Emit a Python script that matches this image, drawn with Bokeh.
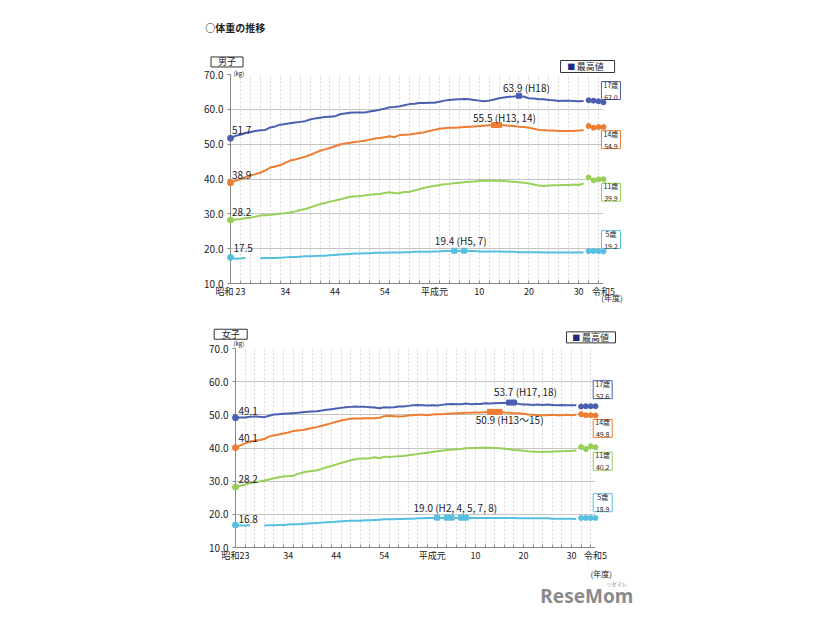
from bokeh.plotting import figure
from bokeh.models import Range1d, FixedTicker
from bokeh.core.properties import value
from bokeh.embed import file_html
from bokeh.resources import INLINE

nan = float("nan")
years = list(range(1948, 2020))
recent_years = [2020, 2021, 2022, 2023]

x_ticks = [1948, 1959, 1969, 1979, 1989, 1998, 2008, 2018, 2023]
x_labels_boys = ["昭和 23", "34", "44", "54", "平成元", "10", "20", "30", "令和5"]
x_labels_girls = ["昭和23", "34", "44", "54", "平成元", "10", "20", "30", "令和5"]
y_ticks = [10, 20, 30, 40, 50, 60, 70]
y_labels = ["10.0", "20.0", "30.0", "40.0", "50.0", "60.0", "70.0"]

# ---- boys (男子) ----
boys17 = [51.7, 52.4, 52.7, 53.2, 53.5, 53.8, 54.0, 54.1, 54.8, 55.1, 55.6, 55.8, 56.0, 56.2,
          56.4, 56.6, 57.1, 57.4, 57.6, 57.8, 57.9, 58.0, 58.6, 58.8, 59.0, 59.1, 59.1, 59.1,
          59.4, 59.6, 59.9, 60.2, 60.6, 60.7, 60.9, 61.2, 61.5, 61.6, 61.8, 61.8, 61.9, 61.9,
          62.2, 62.5, 62.7, 62.8, 62.9, 63.0, 62.9, 62.7, 62.5, 62.3, 62.5, 62.8, 63.2, 63.4,
          63.6, 63.7, 63.9, 63.6, 63.2, 63.1, 62.9, 62.9, 62.7, 62.6, 62.4, 62.5, 62.5, 62.4,
          62.3, 62.4]
boys14 = [38.9, 39.5, 40.0, 40.5, 41.0, 41.4, 41.8, 42.5, 43.3, 43.6, 44.0, 44.6, 45.3, 45.6,
          46.0, 46.4, 46.9, 47.5, 48.1, 48.5, 48.9, 49.4, 49.9, 50.2, 50.4, 50.6, 50.8, 51.0,
          51.3, 51.6, 51.8, 52.0, 52.3, 52.0, 52.6, 52.7, 52.8, 53.0, 53.2, 53.4, 53.8, 54.1,
          54.4, 54.6, 54.7, 54.7, 54.8, 54.9, 55.0, 55.1, 55.2, 55.3, 55.4, 55.5, 55.5, 55.4,
          55.3, 55.2, 55.0, 54.9, 54.7, 54.4, 54.1, 54.0, 53.9, 53.9, 53.8, 53.8, 53.8, 53.8,
          53.9, 54.0]
boys11 = [28.2, 28.4, 28.5, 28.7, 28.9, 29.2, 29.5, 29.6, 29.7, 29.9, 30.1, 30.2, 30.4, 30.7,
          31.1, 31.4, 31.8, 32.3, 32.8, 33.1, 33.5, 33.8, 34.1, 34.5, 34.9, 35.0, 35.1, 35.3,
          35.5, 35.6, 35.7, 36.0, 36.2, 35.9, 36.0, 36.3, 36.3, 36.7, 37.1, 37.5, 37.8, 38.0,
          38.3, 38.5, 38.6, 38.8, 38.9, 39.1, 39.2, 39.3, 39.4, 39.5, 39.5, 39.5, 39.5, 39.4,
          39.3, 39.2, 39.1, 38.9, 38.7, 38.4, 38.1, 38.0, 38.1, 38.2, 38.2, 38.3, 38.3, 38.4,
          38.3, 38.7]
boys5 = [17.5, 17.1, 17.2, 17.3, nan, nan, 17.3, 17.3, 17.3, 17.3, 17.4, 17.5, 17.6, 17.6,
         17.7, 17.8, 17.8, 17.9, 18.0, 18.0, 18.1, 18.2, 18.3, 18.4, 18.5, 18.6, 18.6, 18.7,
         18.7, 18.8, 18.8, 18.8, 18.9, 18.9, 18.9, 19.0, 19.0, 19.1, 19.1, 19.1, 19.1, 19.2,
         19.2, 19.3, 19.3, 19.4, 19.3, 19.4, 19.3, 19.3, 19.2, 19.2, 19.2, 19.2, 19.2, 19.1,
         19.1, 19.1, 19.0, 19.0, 19.0, 19.0, 19.0, 18.9, 18.9, 18.9, 18.9, 18.9, 18.9, 18.9,
         19.0, 18.9]
boys17_recent = [62.6, 62.5, 62.3, 62.0]
boys14_recent = [55.2, 54.7, 54.9, 54.9]
boys11_recent = [40.4, 39.6, 39.9, 39.9]
boys5_recent = [19.3, 19.3, 19.3, 19.2]
boys_max_years = {"17": [2006], "14": [2001, 2002], "5": [1993, 1995]}

# ---- girls (女子) ----
girls17 = [49.1, 49.2, 49.2, 49.4, 49.5, 49.4, 49.3, 49.7, 50.1, 50.2, 50.3, 50.4, 50.5, 50.6,
           50.8, 50.9, 51.0, 51.1, 51.3, 51.5, 51.7, 51.9, 52.1, 52.3, 52.4, 52.5, 52.4, 52.4,
           52.3, 52.2, 52.0, 52.3, 52.2, 52.3, 52.5, 52.5, 52.7, 52.9, 53.0, 52.9, 52.8, 52.9,
           52.8, 53.0, 53.2, 53.3, 53.2, 53.2, 53.4, 53.2, 53.3, 53.3, 53.5, 53.4, 53.5, 53.6,
           53.6, 53.7, 53.7, 53.3, 53.1, 53.1, 53.0, 53.1, 53.0, 53.1, 53.0, 52.9, 53.0, 52.9,
           52.9, 52.9]
girls14 = [40.1, 40.8, 41.4, 41.9, 42.2, 42.4, 42.7, 43.5, 43.8, 44.1, 44.4, 44.7, 45.1, 45.3,
           45.4, 45.7, 46.0, 46.3, 46.7, 47.1, 47.5, 47.9, 48.3, 48.6, 48.8, 48.9, 48.9, 49.0,
           49.0, 49.0, 49.1, 49.6, 49.7, 49.6, 49.5, 49.6, 49.8, 49.9, 50.0, 50.0, 49.9, 50.1,
           50.2, 50.2, 50.3, 50.4, 50.5, 50.5, 50.6, 50.6, 50.7, 50.7, 50.8, 50.9, 50.9, 50.9,
           50.7, 50.6, 50.5, 50.5, 50.3, 50.1, 50.0, 49.9, 49.9, 49.9, 50.0, 49.9, 49.9, 50.0,
           49.9, 50.0]
girls11 = [28.2, 28.6, 29.0, 29.4, 29.7, 29.9, 30.2, 30.5, 30.9, 31.2, 31.4, 31.5, 31.6, 32.2,
           32.6, 32.9, 33.1, 33.3, 33.7, 34.2, 34.6, 35.0, 35.5, 35.9, 36.3, 36.6, 36.8, 36.8,
           36.9, 37.2, 36.9, 37.4, 37.3, 37.4, 37.5, 37.6, 37.8, 38.0, 38.2, 38.4, 38.6, 38.8,
           39.0, 39.2, 39.4, 39.5, 39.6, 39.7, 39.9, 40.0, 40.0, 40.1, 40.1, 40.1, 40.0, 39.9,
           39.8, 39.6, 39.4, 39.3, 39.2, 39.0, 38.9, 38.9, 38.8, 38.9, 38.9, 39.0, 39.0, 39.1,
           39.1, 39.3]
girls5 = [16.8, 16.6, 16.6, 16.7, nan, nan, 16.6, 16.7, 16.7, 16.8, 16.8, 16.9, 17.0, 17.0,
          17.1, 17.2, 17.3, 17.4, 17.5, 17.6, 17.7, 17.8, 17.9, 18.0, 18.1, 18.1, 18.1, 18.2,
          18.2, 18.3, 18.4, 18.5, 18.5, 18.5, 18.6, 18.6, 18.7, 18.7, 18.8, 18.8, 18.9, 18.9,
          19.0, 18.9, 19.0, 19.0, 18.9, 19.0, 19.0, 18.9, 18.9, 18.9, 18.9, 18.9, 18.9, 18.9,
          18.9, 18.9, 18.9, 18.8, 18.8, 18.8, 18.8, 18.8, 18.8, 18.8, 18.7, 18.7, 18.7, 18.7,
          18.7, 18.6]
girls17_recent = [52.5, 52.6, 52.6, 52.6]
girls14_recent = [50.2, 49.9, 49.9, 49.8]
girls11_recent = [40.3, 39.7, 40.5, 40.2]
girls5_recent = [18.9, 18.9, 18.9, 18.9]
girls_max_years = {"17": [2005, 2006], "14": [2001, 2002, 2003], "5": [1990, 1992, 1993, 1995, 1996]}

ages = ["17", "14", "11", "5"]
colors = {"17": "#4a5fb0", "14": "#ed7d31", "11": "#97d057", "5": "#56bfe0"}
FONT = "Noto Sans CJK JP"
TXT = "#222222"


def txt(p, x, y, text, size="10px", align="left", baseline="middle", color=TXT, bold=False,
        font=FONT, line_height=1.2):
    p.text(x=[x], y=[y], text=[text], text_font=value(font), text_font_size=value(size),
           text_align=align, text_baseline=baseline, text_color=color,
           text_font_style="bold" if bold else "normal", text_line_height=line_height,
           level="overlay")


def box(p, x, y, w, h, line_color="#333333"):
    p.rect(x=[x], y=[y], width=w, height=h, width_units="screen", height_units="screen",
           fill_color="white", line_color=line_color, line_width=1, level="overlay")


def make_chart(series, recent, max_years, x_labels, borders, height):
    left, right, top, bottom = borders
    p = figure(width=826, height=height, output_backend="svg", toolbar_location=None,
               x_range=Range1d(1948, 2023), y_range=Range1d(10, 70),
               min_border_left=left, min_border_right=right, min_border_top=top,
               min_border_bottom=bottom)
    p.outline_line_color = None
    p.background_fill_color = "white"
    p.border_fill_color = "white"

    p.yaxis.ticker = FixedTicker(ticks=y_ticks)
    p.yaxis.major_label_overrides = {t: l for t, l in zip(y_ticks, y_labels)}
    p.yaxis.major_label_text_font = FONT
    p.yaxis.major_label_text_font_size = "10px"
    p.yaxis.major_label_text_color = TXT
    p.yaxis.axis_line_color = "#888888"
    p.yaxis.major_tick_line_color = "#888888"
    p.yaxis.major_tick_in = 0
    p.yaxis.major_tick_out = 3
    p.yaxis.minor_tick_line_color = None
    p.yaxis.major_label_standoff = 4

    p.xaxis.ticker = FixedTicker(ticks=x_ticks, minor_ticks=list(range(1948, 2024, 2)))
    p.xaxis.major_label_overrides = {t: l for t, l in zip(x_ticks, x_labels)}
    p.xaxis.major_label_text_font = FONT
    p.xaxis.major_label_text_font_size = "9px"
    p.xaxis.major_label_text_color = TXT
    p.xaxis.axis_line_color = "#888888"
    p.xaxis.major_tick_line_color = None
    p.xaxis.major_tick_in = 0
    p.xaxis.major_tick_out = 0
    p.xaxis.minor_tick_line_color = "#888888"
    p.xaxis.minor_tick_in = 3
    p.xaxis.minor_tick_out = 0
    p.xaxis.major_label_standoff = 1

    p.ygrid.ticker = FixedTicker(ticks=y_ticks)
    p.ygrid.grid_line_color = "#c4c4c4"
    p.xgrid.ticker = FixedTicker(ticks=list(range(1950, 2024, 2)))
    p.xgrid.grid_line_color = "#d6d6d6"
    p.xgrid.grid_line_dash = "2 2"

    for age in ages:
        vals = series[age]
        c = colors[age]
        p.line(years, vals, line_color=c, line_width=2)
        p.scatter([years[0]], [vals[0]], size=6, marker="circle", color=c, level="overlay")
        p.scatter(recent_years, recent[age], size=5, marker="circle", color=c, level="overlay")
        if age in max_years:
            mx = max_years[age]
            my = [vals[years.index(y)] for y in mx]
            p.scatter(mx, my, size=5, marker="square", color=c, level="overlay")
    return p


boys = make_chart({"17": boys17, "14": boys14, "11": boys11, "5": boys5},
                  {"17": boys17_recent, "14": boys14_recent, "11": boys11_recent, "5": boys5_recent},
                  boys_max_years, x_labels_boys, (230, 223, 74, 27), 310)
girls = make_chart({"17": girls17, "14": girls14, "11": girls11, "5": girls5},
                   {"17": girls17_recent, "14": girls14_recent, "11": girls11_recent, "5": girls5_recent},
                   girls_max_years, x_labels_girls, (235, 231, 38, 73), 310)

# ---- boys annotations ----
txt(boys, 1942.9, 83.4, "○体重の推移", size="10px", bold=True)
box(boys, 1947.3, 73.6, 32, 10)
txt(boys, 1947.3, 73.6, "男子", size="9px", align="center")
box(boys, 2019.8, 72.3, 54, 12)
txt(boys, 2015.7, 72.3, "■", size="8px", color="#1f2a80")
txt(boys, 2017.6, 72.3, "最高値", size="9px")
txt(boys, 1948.6, 70.3, "(kg)", size="6px")
txt(boys, 1948.3, boys17[0] + 2.4, "51.7")
txt(boys, 1948.3, boys14[0] + 2.2, "38.9")
txt(boys, 1948.3, boys11[0] + 2.2, "28.2")
txt(boys, 1948.6, boys5[0] + 2.8, "17.5")
txt(boys, 2007.5, 66.3, "63.9 (H18)", align="center")
txt(boys, 2003.1, 57.7, "55.5 (H13, 14)", align="center")
txt(boys, 1994.3, 22.3, "19.4 (H5, 7)", align="center")
for yc, t, age in [(65.4, "17歳\n62.0", "17"), (51.3, "14歳\n54.9", "14"),
                   (36.2, "11歳\n39.9", "11"), (22.6, "5歳\n19.2", "5")]:
    box(boys, 2024.5, yc, 19, 18, colors[age])
    txt(boys, 2024.5, yc, t, size="7px", align="center")
txt(boys, 2024.7, 5.9, "(年度)", size="8px", align="center")

# ---- girls annotations ----
box(girls, 1947.0, 74.3, 33, 10)
txt(girls, 1947.0, 74.3, "女子", size="9px", align="center")
box(girls, 2022.06, 73.35, 49, 11)
txt(girls, 2018.15, 73.35, "■", size="8px", color="#1f2a80")
txt(girls, 2020.2, 73.35, "最高値", size="9px")
txt(girls, 1947.6, 71.5, "(kg)", size="6px")
txt(girls, 1948.6, girls17[0] + 2.2, "49.1")
txt(girls, 1948.6, girls14[0] + 3.0, "40.1")
txt(girls, 1948.6, girls11[0] + 2.6, "28.2")
txt(girls, 1948.6, girls5[0] + 1.9, "16.8")
txt(girls, 2008.4, 56.9, "53.7 (H17, 18)", align="center")
txt(girls, 2005.1, 48.6, "50.9 (H13〜15)", align="center")
txt(girls, 1993.8, 22.0, "19.0 (H2, 4, 5, 7, 8)", align="center")
for yc, t, age in [(57.6, "17歳\n52.6", "17"), (45.9, "14歳\n49.8", "14"),
                   (36.0, "11歳\n40.2", "11"), (23.5, "5歳\n18.9", "5")]:
    box(girls, 2024.5, yc, 19, 18, colors[age])
    txt(girls, 2024.5, yc, t, size="7px", align="center")
txt(girls, 2024.2, 2.1, "(年度)", size="8px", align="center")
txt(girls, 2021.2, -4.6, "ReseMom", size="19px", align="center", color="#8a8a8a", bold=True,
    font="Noto Sans")
txt(girls, 2027.4, -1.0, "リセマム", size="5px", align="center", color="#8a8a8a")

open("out.html", "w").write(file_html([boys, girls], INLINE))
